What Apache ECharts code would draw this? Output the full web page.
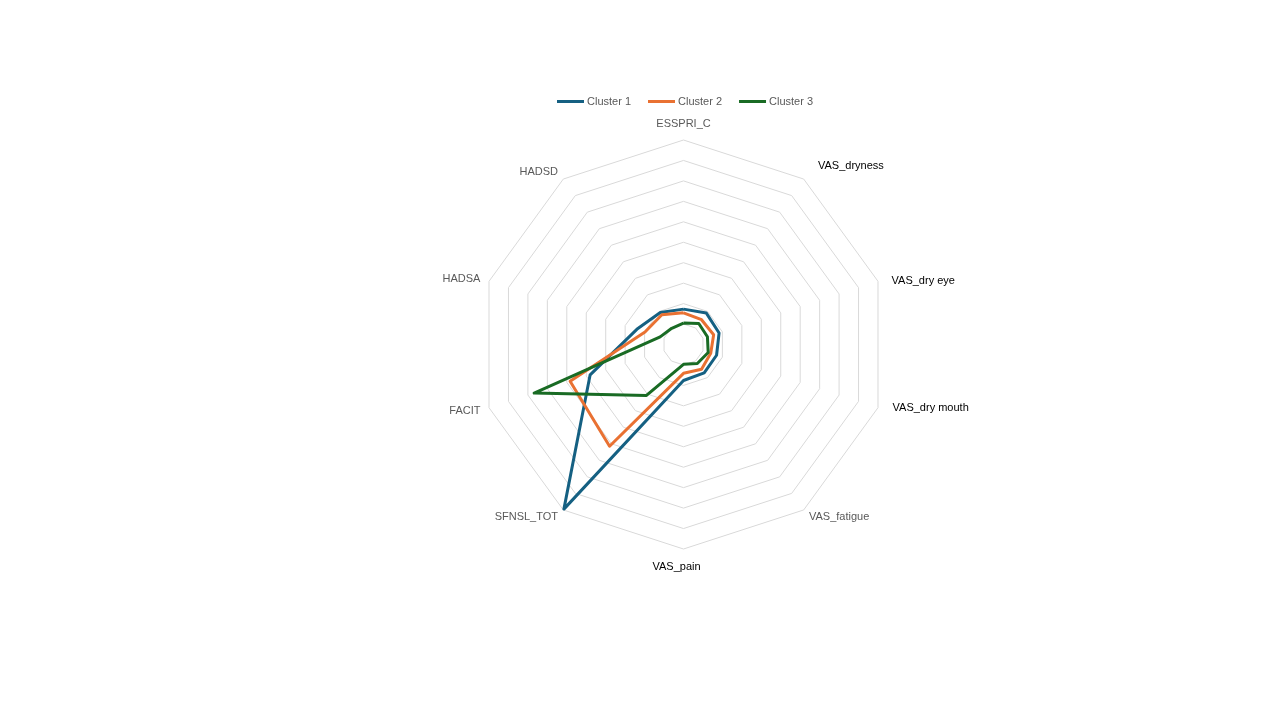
<!DOCTYPE html>
<html>
<head>
<meta charset="utf-8">
<script src="https://cdn.jsdelivr.net/npm/echarts@6/dist/echarts.min.js"></script>
<style>html,body{margin:0;padding:0;background:#fff}#c{width:1280px;height:720px}</style>
</head>
<body>
<div id="c"></div>
<script>
// Categories in clockwise order starting at the top
var categories = ['ESSPRI_C', 'VAS_dryness', 'VAS_dry eye', 'VAS_dry mouth', 'VAS_fatigue', 'VAS_pain', 'SFNSL_TOT', 'FACIT', 'HADSA', 'HADSD'];
var seriesNames = ['Cluster 1', 'Cluster 2', 'Cluster 3'];
var cluster1 = [1.73, 1.90, 1.83, 1.70, 1.72, 1.76, 9.95, 4.80, 2.40, 1.93];
var cluster2 = [1.55, 1.50, 1.55, 1.40, 1.50, 1.41, 6.15, 5.83, 1.98, 1.80];
var cluster3 = [1.05, 1.27, 1.23, 1.27, 1.15, 0.97, 3.08, 7.68, 1.20, 0.98];
var axisMax = 10;

// styling (not data)
var dark = '#000000', grey = '#595959';
var labelColors = [grey, dark, dark, dark, grey, dark, grey, grey, grey, grey];
var labelPadding = [
  [0, 0, 2, 0],   // ESSPRI_C
  [0, 0, 12, 9],  // VAS_dryness
  [4, 0, 0, 5],   // VAS_dry eye
  [0, 0, 6, 6],   // VAS_dry mouth
  [0, 0, 0, 0],   // VAS_fatigue
  [3, 14, 0, 0],  // VAS_pain
  [0, 0, 0, 0],   // SFNSL_TOT
  [0, 0, 0, 0],   // FACIT
  [0, 0, 0, 0],   // HADSA
  [0, 0, 0, 0]    // HADSD
];
var colors = ['#156082', '#E97132', '#196B24'];
var fontFam = 'Liberation Sans, Arial, sans-serif';

// ECharts places indicators counter-clockwise: keep first, reverse the rest
function toCCW(arr) { return [arr[0]].concat(arr.slice(1).reverse()); }

var indicators = toCCW(categories.map(function (n, i) {
  return { name: n, max: axisMax, min: 0, color: labelColors[i] };
}));
var rich = {};
categories.forEach(function (n, i) {
  rich['s' + i] = { fontSize: 11, fontFamily: fontFam, color: labelColors[i], padding: labelPadding[i] };
});
var allData = [cluster1, cluster2, cluster3];

var chart = echarts.init(document.getElementById('c'));
chart.setOption({
  animation: false,
  color: colors,
  legend: {
    left: 552, top: 91,
    itemWidth: 27, itemHeight: 3, itemGap: 17,
    icon: 'rect',
    textStyle: { fontSize: 11, color: grey, fontFamily: fontFam, padding: [0, 0, 0, -2] },
    data: seriesNames
  },
  radar: {
    center: [683.5, 344.5],
    radius: 204.5,
    startAngle: 90,
    splitNumber: 10,
    shape: 'polygon',
    nameGap: 9,
    axisName: {
      fontSize: 11, fontFamily: fontFam,
      formatter: function (name) { return '{s' + categories.indexOf(name) + '|' + name + '}'; },
      rich: rich
    },
    axisLine: { show: false },
    axisTick: { show: false },
    axisLabel: { show: false },
    splitArea: { show: false },
    splitLine: { lineStyle: { color: '#d9d9d9', width: 1 } },
    indicator: indicators
  },
  series: [{
    type: 'radar',
    symbol: 'none',
    data: allData.map(function (vals, i) {
      return {
        name: seriesNames[i],
        value: toCCW(vals),
        lineStyle: { color: colors[i], width: 3 },
        itemStyle: { color: colors[i] }
      };
    })
  }]
});
</script>
</body>
</html>
